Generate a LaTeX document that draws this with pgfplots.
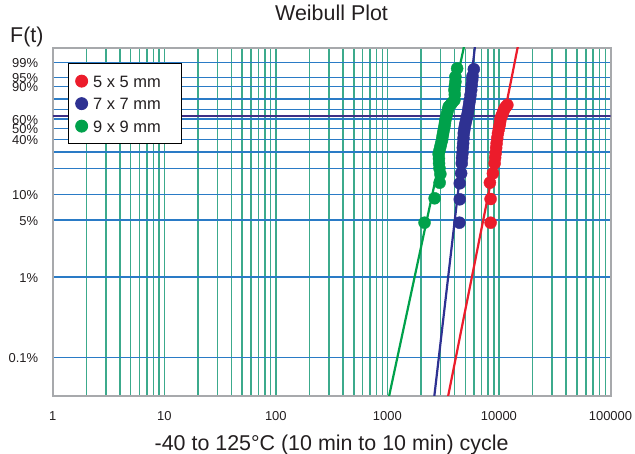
\documentclass[border=0pt]{standalone}
\usepackage{pgfplots}
\pgfplotsset{compat=1.18}
\usepackage{fontspec}
\setmainfont{Liberation Sans}
\definecolor{gridv}{HTML}{3CAA8C}
\definecolor{gridh}{HTML}{2A7BC6}
\definecolor{refl}{HTML}{3D2F86}
\definecolor{cred}{HTML}{EC1C2B}
\definecolor{cblue}{HTML}{2E3192}
\definecolor{cgreen}{HTML}{00A14B}
\definecolor{framec}{HTML}{A7A9AC}
\definecolor{txt}{HTML}{231F20}
\begin{document}
\begin{tikzpicture}
\begin{axis}[
  name=ax, scale only axis, width=557.8bp, height=348bp,
  xmode=log, log basis x=10,
  xmin=1, xmax=100000, ymin=-3.471, ymax=0.844,
  xtick={1,10,100,1000,10000,100000},
  xticklabels={1,10,100,1000,10000,100000},
  minor xtick={2,3,4,5,6,7,8,9,20,30,40,50,60,70,80,90,200,300,400,500,600,700,800,900,2000,3000,4000,5000,6000,7000,8000,9000,20000,30000,40000,50000,60000,70000,80000,90000},
  ytick={-2.99978,-1.99782,-1.28995,-0.97731,-0.65142,-0.44772,-0.29173,-0.15917,-0.03796,0.08062,0.20667,0.36221,0.47650,0.66324},
  yticklabels={0.1\%,1\%,5\%,10\%,,,40\%,50\%,60\%,,,90\%,95\%,99\%},
  xmajorgrids, xminorgrids, ymajorgrids,
  major grid style={line width=1.5bp},
  minor grid style={line width=1.5bp},
  x grid style={gridv, line width=1.5bp},
  y grid style={gridh, line width=1.5bp},
  major tick length=0pt, minor tick length=0pt,
  axis line style={framec, line width=2bp},
  tick label style={font=\fontsize{13}{15}\selectfont, text=txt},
  xticklabel style={anchor=base, yshift=-25bp, inner sep=0pt},
  yticklabel style={anchor=east, xshift=-14.4bp, yshift=-0.8bp, inner sep=0pt},
  title={Weibull Plot},
  title style={at={(0.5,1)}, anchor=base, yshift=21bp, font=\fontsize{21.5}{24}\selectfont, text=txt, inner sep=0pt},
  xlabel={-40 to 125°C (10 min to 10 min) cycle},
  xlabel style={at={(0.5,0)}, anchor=base, yshift=-55bp, font=\fontsize{21.5}{24}\selectfont, text=txt, inner sep=0pt},
  y filter/.expression={ln(-ln(1-y/100))/ln(10)},
  legend cell align=left,
  legend image code/.code={\draw[#1] plot coordinates {(0bp,0bp)};},
  legend style={at={(0.0269,0.9552)}, anchor=north west, draw=black, line width=0.9bp, fill=white,
    inner xsep=7.5bp, inner ysep=10bp, font=\fontsize{16.5}{18}\selectfont, text=txt,
    row sep=7.7bp, column sep=4bp,
    nodes={inner sep=1.5bp, text height=11.8bp, text depth=0bp}},
]
% characteristic life reference line (63.2%)
\addplot[refl, line width=1.5bp, forget plot] coordinates {(1,63.2) (100000,63.2)};
% fitted Weibull lines
\addplot[cred, line width=2.2bp, forget plot] coordinates {(3023,0.01) (15305,99.99)};
\addplot[cblue, line width=2.2bp, forget plot] coordinates {(2418,0.01) (6223,99.99)};
\addplot[cgreen, line width=2.2bp, forget plot] coordinates {(884,0.01) (5050,99.99)};
% data points
\addplot[only marks, mark=*, mark size=6bp, cred, mark options={draw=none}] coordinates {
 (8417,4.61) (8417,8.87) (8296,13.75) (8829,17.58) (9147,22.68) (9240,26.0) (9339,29.0)
 (9440,33.0) (9535,36.6) (9660,41.0) (9795,45.4) (9970,49.5) (10146,53.6) (10250,57.0)
 (10358,60.5) (10570,63.2) (10797,65.8) (11020,68.5) (11257,71.0) (11600,72.8) (11903,74.3)};
\addlegendentry{5 x 5 mm\hspace*{11.8bp}}
\addplot[only marks, mark=*, mark size=6bp, cblue, mark options={draw=none}] coordinates {
 (4425,4.61) (4453,8.79) (4453,13.52) (4584,17.58) (4642,22.68) (4670,26.0) (4710,29.0)
 (4745,33.0) (4778,36.6) (4810,41.0) (4838,45.4) (4890,48.7) (4939,51.9) (5010,55.4)
 (5085,58.8) (5170,62.3) (5256,65.8) (5310,69.2) (5366,72.6) (5420,75.9) (5479,79.1)
 (5560,83.5) (5641,87.6) (5700,91.0) (5759,93.8) (5800,95.5) (5953,97.7)};
\addlegendentry{7 x 7 mm\hspace*{11.8bp}}
\addplot[only marks, mark=*, mark size=6bp, cgreen, mark options={draw=none}] coordinates {
 (2154,4.61) (2651,9.04) (2941,13.75) (2985,17.26) (2930,20.0) (2905,22.68) (2900,25.5)
 (2881,28.5) (2930,31.0) (2985,33.85) (3030,36.5) (3092,39.4) (3120,42.4) (3156,45.4)
 (3200,48.6) (3243,51.9) (3280,55.3) (3311,58.8) (3370,62.3) (3429,65.8) (3490,69.2)
 (3545,72.6) (3700,74.8) (3804,76.6) (3990,79.1) (4020,84.0) (3990,87.6) (4030,90.5)
 (4073,92.9) (4073,95.3) (4219,97.9)};
\addlegendentry{9 x 9 mm\hspace*{11.8bp}}
\end{axis}
\node[anchor=base west, font=\fontsize{21.5}{24}\selectfont, text=txt, inner sep=0pt]
  at ([shift={(-42.7bp,5bp)}]ax.north west) {F(t)};
\pgfresetboundingbox
\path[use as bounding box] ([shift={(-52.7bp,-58.3bp)}]ax.south west) rectangle ([shift={(24.5bp,47.7bp)}]ax.north east);
\end{tikzpicture}
\end{document}
